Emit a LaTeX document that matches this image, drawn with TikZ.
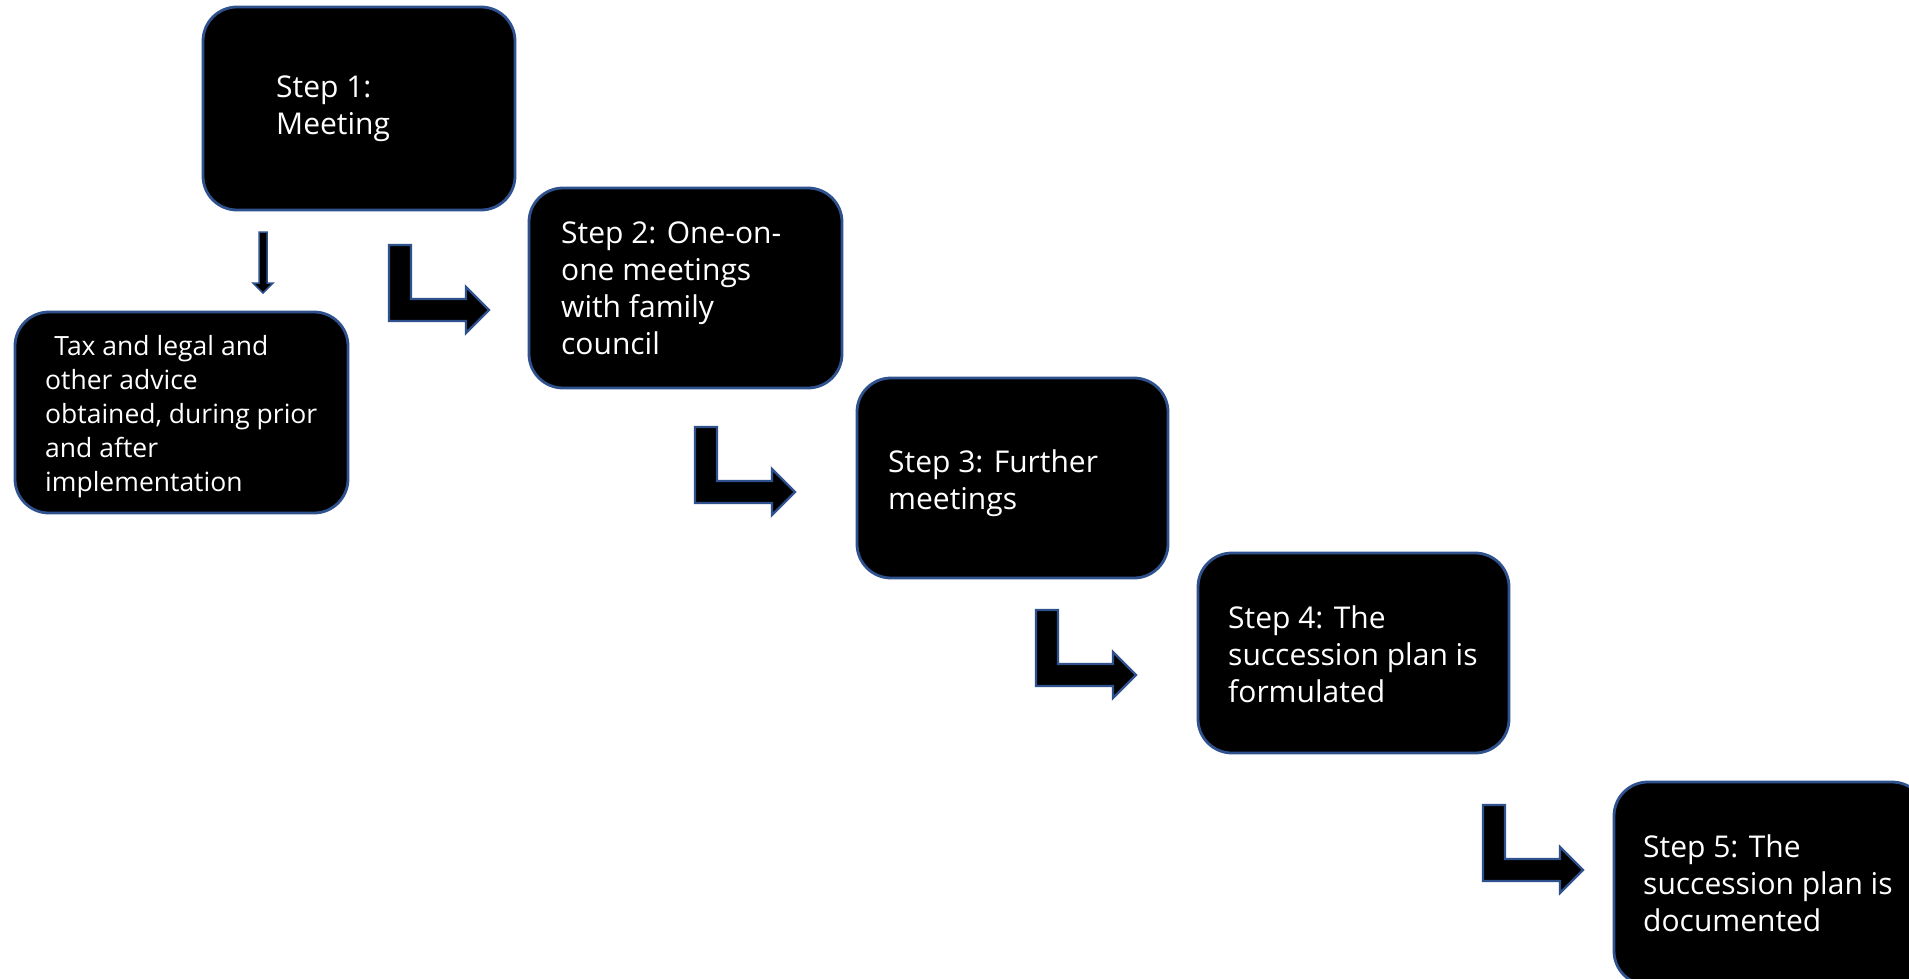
\documentclass[tikz,border=0pt]{standalone}
\usepackage{fontspec}
\setmainfont{Open Sans}
\definecolor{bord}{HTML}{2F528F}
\tikzset{
  stepbox/.style={draw=bord, line width=2.8pt, fill=black, rounded corners=34pt},
  bent/.style={draw=bord, line width=2.2pt, fill=black, line join=miter},
  txt/.style={anchor=base west, inner sep=0pt, text=white, font=\fontsize{30}{37}\selectfont},
  smalltxt/.style={anchor=base west, inner sep=0pt, text=white, font=\fontsize{26.5}{34}\selectfont},
}
\newcommand{\bentarrow}[2]{%
  \draw[bent] (#1,#2) -- ++(22,0) -- ++(0,54) -- ++(55,0) -- ++(0,-12) -- ++(23,23) -- ++(-23,23) -- ++(0,-12) -- ++(-77,0) -- cycle;}
\newcommand{\lines}[1]{\begin{tabular}[t]{@{}l@{}}#1\end{tabular}}
\begin{document}
\begin{tikzpicture}[x=1pt, y=-1pt]
\useasboundingbox (0,0) rectangle (1909,979);
\fill[white] (0,0) rectangle (1909,979);
\clip (0,0) rectangle (1909,979);
% boxes
\draw[stepbox] (203,7) rectangle (515,210);
\draw[stepbox] (529,188) rectangle (842,388);
\draw[stepbox] (857,378) rectangle (1168,578);
\draw[stepbox] (1198,553) rectangle (1509,753);
\draw[stepbox] (1614,782) rectangle (1926,985);
\draw[stepbox] (15,312) rectangle (348,513);
% texts
\node[txt] (t1) at (276,98) {\lines{Step 1:\\Meeting}};
\node[txt] (t2) at (561,243) {\lines{Step 2: One-on-\\one meetings\\with family\\council}};
\node[txt] (t3) at (888,472) {\lines{Step 3: Further\\meetings}};
\node[txt] (t4) at (1228,628) {\lines{Step 4: The\\succession plan is\\formulated}};
\node[txt] (t5) at (1643,857) {\lines{Step 5: The\\succession plan is\\documented}};
\node[smalltxt] (tax) at (45,355) {\lines{\hspace*{0.35em}Tax and legal and\\other advice\\obtained, during prior\\and after\\implementation}};
% small down arrow
\draw[draw=bord, line width=1.5pt, fill=black, line join=miter] (259,232) -- (267,232) -- (267,283) -- (273,283) -- (263,293) -- (253,283) -- (259,283) -- cycle;
% bent arrows
\bentarrow{389}{245}
\bentarrow{695}{427}
\bentarrow{1036}{610}
\bentarrow{1483}{805}
\end{tikzpicture}
\end{document}
